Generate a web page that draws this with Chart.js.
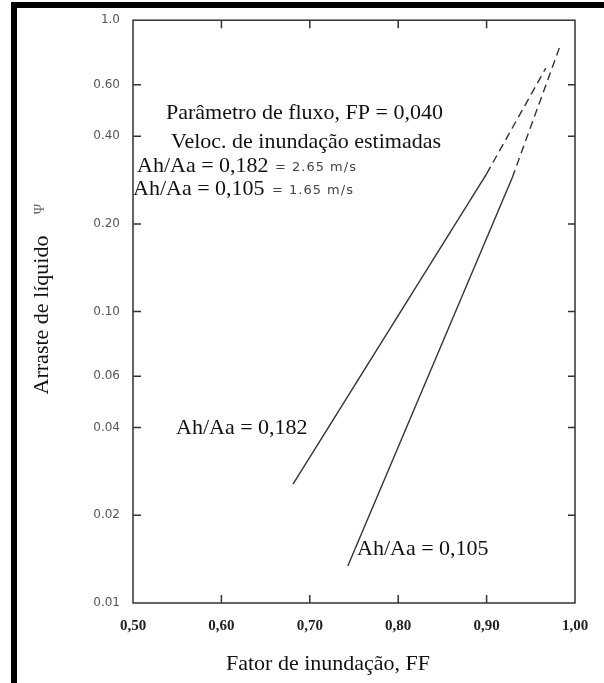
<!DOCTYPE html>
<html>
<head>
<meta charset="utf-8">
<script src="https://cdn.jsdelivr.net/npm/chart.js"></script>
<style>
  body { margin: 0; background: #fff; }
  canvas { display: block; }
</style>
</head>
<body>
<canvas id="myChart" width="604" height="683"></canvas>
<script>
// fator de inundação (x) and arraste de líquido (y)
// last segment of each line is the dashed (extrapolated) part
const ff182 = [0.681, 0.900, 0.967]
const psi182 = [0.0256, 0.297, 0.685]
const ff105 = [0.743, 0.929, 0.984]
const psi105 = [0.0134, 0.288, 0.83]

const xTicks = [0.5, 0.6, 0.7, 0.8, 0.9, 1.0]
const xTickLabels = ['0,50', '0,60', '0,70', '0,80', '0,90', '1,00']
const yTicks = [0.01, 0.02, 0.04, 0.06, 0.1, 0.2, 0.4, 0.6, 1.0]
const yTickLabels = ['0.01', '0.02', '0.04', '0.06', '0.10', '0.20', '0.40', '0.60', '1.0']

const toPoints = (xs, ys) => xs.map((x, i) => ({x: x, y: ys[i]}))

// dashed after the second point
const dashTail = {
  borderDash: ctx => ctx.p0DataIndex >= 1 ? [8, 5] : undefined
}

// white page, black scan border, box, inward ticks and the texts
const paper = {
  id: 'paper',
  beforeDraw(chart) {
    const c = chart.ctx
    c.save()
    c.fillStyle = '#fff'
    c.fillRect(0, 0, chart.width, chart.height)
    c.fillStyle = '#000'
    c.fillRect(11, 2, chart.width - 11, 6)
    c.fillRect(11, 2, 6, chart.height - 2)
    c.restore()
  },
  afterDraw(chart) {
    const c = chart.ctx
    const a = chart.chartArea
    const xs = chart.scales.x, ys = chart.scales.y
    c.save()
    c.strokeStyle = '#333'
    c.lineWidth = 1.5
    c.strokeRect(a.left, a.top, a.right - a.left, a.bottom - a.top)
    // inward tick marks on all four sides
    c.beginPath()
    yTicks.slice(1, -1).forEach(v => {
      const p = ys.getPixelForValue(v)
      c.moveTo(a.left, p); c.lineTo(a.left + 8, p)
      c.moveTo(a.right, p); c.lineTo(a.right - 7, p)
    })
    xTicks.slice(1, -1).forEach(v => {
      const p = xs.getPixelForValue(v)
      c.moveTo(p, a.bottom); c.lineTo(p, a.bottom - 8)
      c.moveTo(p, a.top); c.lineTo(p, a.top + 8)
    })
    c.stroke()

    // notes
    c.fillStyle = '#111'
    c.font = '22px "Liberation Serif"'
    c.textBaseline = 'alphabetic'
    c.fillText('Parâmetro de fluxo, FP = 0,040', 166, 119)
    c.fillText('Veloc. de inundação estimadas', 171, 148)
    c.fillText('Ah/Aa = 0,182', 137, 172)
    c.fillText('Ah/Aa = 0,105', 133, 195)
    c.fillStyle = '#444'
    c.font = '13px "DejaVu Sans"'
    c.letterSpacing = '1px'
    c.fillText('= 2.65 m/s', 275, 171)
    c.fillText('= 1.65 m/s', 272, 194)
    c.letterSpacing = '0px'

    // line labels
    c.fillStyle = '#111'
    c.font = '22px "Liberation Serif"'
    c.fillText('Ah/Aa = 0,182', 176, 434)
    c.fillText('Ah/Aa = 0,105', 357, 555)

    // axis titles
    c.textAlign = 'center'
    c.fillText('Fator de inundação, FF', 328, 670)
    c.translate(48, 315)
    c.rotate(-Math.PI / 2)
    c.fillText('Arraste de líquido', 0, 0)
    c.rotate(Math.PI / 2)
    c.translate(-48, -315)
    c.fillStyle = '#666'
    c.font = '14px "Liberation Serif"'
    c.translate(44, 209)
    c.rotate(-Math.PI / 2)
    c.fillText('Ψ', 0, 0)
    c.restore()
  }
}

const ctx = document.getElementById('myChart')

const datasetChart = new Chart(ctx, {
  type: 'line',
  data: {
    datasets: [
      {
        label: 'Ah/Aa = 0,182',
        data: toPoints(ff182, psi182),
        borderColor: '#333',
        borderWidth: 1.4,
        pointRadius: 0,
        segment: dashTail
      },
      {
        label: 'Ah/Aa = 0,105',
        data: toPoints(ff105, psi105),
        borderColor: '#333',
        borderWidth: 1.4,
        pointRadius: 0,
        segment: dashTail
      }
    ]
  },
  options: {
    responsive: false,
    animation: false,
    events: [],
    layout: { padding: { top: 19, right: 29, left: 0, bottom: 0 } },
    plugins: {
      legend: { display: false },
      tooltip: { enabled: false }
    },
    scales: {
      x: {
        type: 'linear',
        min: 0.5,
        max: 1.0,
        afterBuildTicks: s => { s.ticks = xTicks.map(v => ({value: v})) },
        afterFit: s => { s.height = 80 },
        grid: { display: false, drawTicks: false },
        border: { display: false },
        ticks: {
          callback: (v, i) => xTickLabels[i],
          autoSkip: false,
          maxRotation: 0,
          padding: 14,
          color: '#222',
          font: { family: 'Liberation Serif', size: 15, weight: 'bold' }
        }
      },
      y: {
        type: 'logarithmic',
        min: 0.01,
        max: 1.0,
        afterBuildTicks: s => { s.ticks = yTicks.map(v => ({value: v})) },
        afterFit: s => { s.width = 133 },
        grid: { display: false, drawTicks: false },
        border: { display: false },
        ticks: {
          callback: (v, i) => yTickLabels[i],
          autoSkip: false,
          padding: 13,
          color: '#555',
          font: { family: 'DejaVu Sans', size: 12 }
        }
      }
    }
  },
  plugins: [paper]
});
</script>
</body>
</html>
